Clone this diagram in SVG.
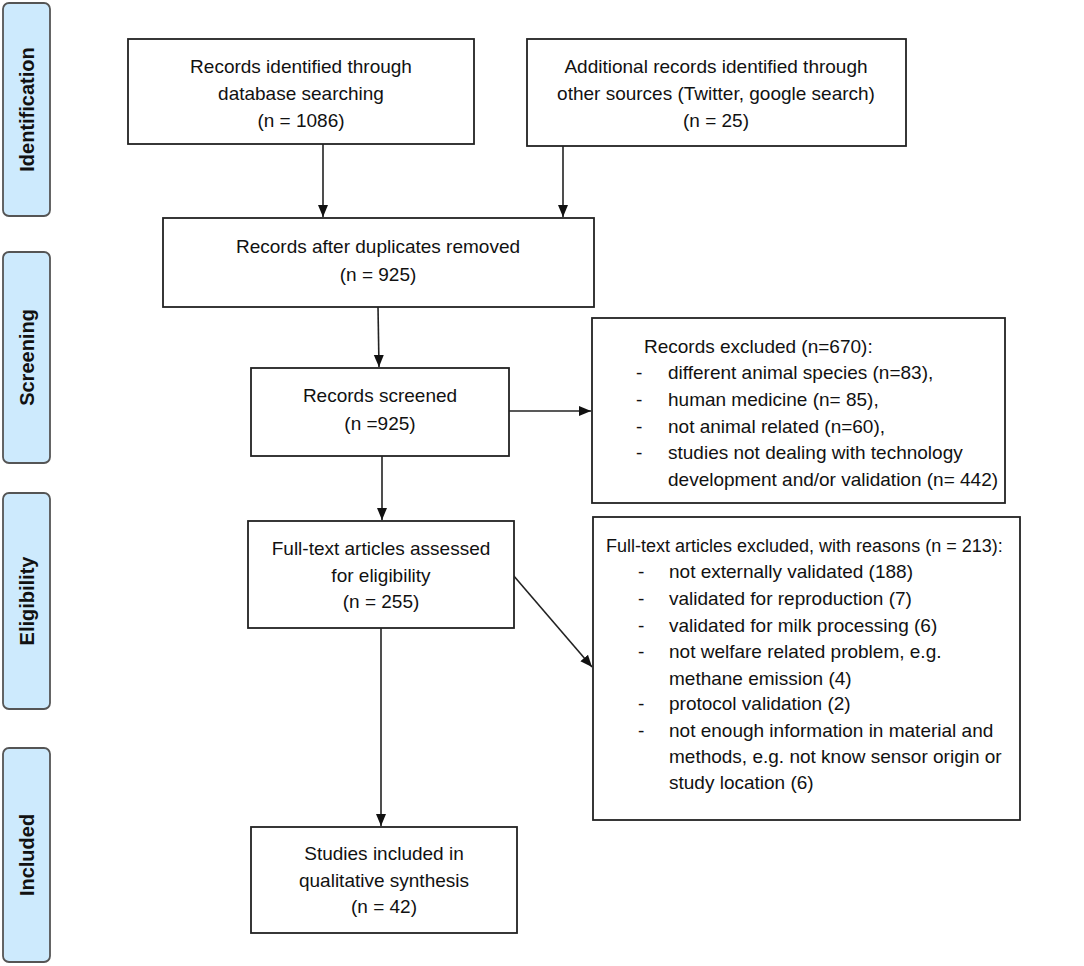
<svg xmlns="http://www.w3.org/2000/svg" width="1084" height="966" viewBox="0 0 1084 966">
<defs>
<marker id="arr" markerWidth="12" markerHeight="11" refX="12" refY="5.5" orient="auto" markerUnits="userSpaceOnUse">
<path d="M0,0.5 L12,5.5 L0,10.5 Z" fill="#111"/>
</marker>
</defs>
<style>
.box{fill:#fff;stroke:#222;stroke-width:1.8}
.side{fill:#cdeafd;stroke:#555;stroke-width:1.8}
.t{font-family:"Liberation Sans",Arial,sans-serif;font-size:19px;fill:#111}
.c{text-anchor:middle}
.st{font-family:"Liberation Sans",Arial,sans-serif;font-size:20px;font-weight:bold;fill:#111;text-anchor:middle;dominant-baseline:central}
.ln{stroke:#222;stroke-width:1.6;fill:none}
</style>
<rect width="1084" height="966" fill="#fff"/>

<g id="side-identification">
<rect class="side" x="3" y="3" width="47" height="213" rx="6"/>
<text class="st" transform="translate(26.5,109.5) rotate(-90)">Identification</text>
</g>
<g id="side-screening">
<rect class="side" x="3" y="252" width="47" height="211" rx="6"/>
<text class="st" transform="translate(26.5,357.5) rotate(-90)">Screening</text>
</g>
<g id="side-eligibility">
<rect class="side" x="3" y="493" width="47" height="216" rx="6"/>
<text class="st" transform="translate(26.5,601) rotate(-90)">Eligibility</text>
</g>
<g id="side-included">
<rect class="side" x="3" y="748" width="47" height="214" rx="6"/>
<text class="st" transform="translate(26.5,855) rotate(-90)">Included</text>
</g>

<g id="connectors">
<line class="ln" x1="323" y1="144" x2="323" y2="217" marker-end="url(#arr)"/>
<line class="ln" x1="563" y1="146" x2="563" y2="217" marker-end="url(#arr)"/>
<line class="ln" x1="378" y1="307" x2="379" y2="367" marker-end="url(#arr)"/>
<line class="ln" x1="509" y1="411" x2="591" y2="411" marker-end="url(#arr)"/>
<line class="ln" x1="382" y1="456" x2="382" y2="520" marker-end="url(#arr)"/>
<line class="ln" x1="513" y1="575" x2="592" y2="667" marker-end="url(#arr)"/>
<line class="ln" x1="381" y1="628" x2="381" y2="826" marker-end="url(#arr)"/>
</g>

<g id="n-database">
<rect class="box" x="128" y="39" width="346" height="105"/>
<text class="t c" x="301" y="73">Records identified through</text>
<text class="t c" x="301" y="100">database searching</text>
<text class="t c" x="301" y="127">(n = 1086)</text>
</g>
<g id="n-other">
<rect class="box" x="527" y="39" width="379" height="107"/>
<text class="t c" x="716" y="73">Additional records identified through</text>
<text class="t c" x="716" y="100">other sources (Twitter, google search)</text>
<text class="t c" x="716" y="127">(n = 25)</text>
</g>
<g id="n-duplicates">
<rect class="box" x="163" y="218" width="431" height="89"/>
<text class="t c" x="378" y="253">Records after duplicates removed</text>
<text class="t c" x="378" y="281">(n = 925)</text>
</g>
<g id="n-screened">
<rect class="box" x="251" y="368" width="258" height="88"/>
<text class="t c" x="380" y="402">Records screened</text>
<text class="t c" x="380" y="430">(n =925)</text>
</g>
<g id="n-excluded">
<rect class="box" x="592" y="318" width="413" height="185"/>
<text class="t" x="644" y="353">Records excluded (n=670):</text>
<text class="t" x="636" y="379">-</text><text class="t" x="668" y="379">different animal species (n=83),</text>
<text class="t" x="636" y="406">-</text><text class="t" x="668" y="406">human medicine (n= 85),</text>
<text class="t" x="636" y="433">-</text><text class="t" x="668" y="433">not animal related (n=60),</text>
<text class="t" x="636" y="459">-</text><text class="t" x="668" y="459">studies not dealing with technology</text>
<text class="t" x="668" y="486">development and/or validation (n= 442)</text>
</g>
<g id="n-assessed">
<rect class="box" x="248" y="521" width="266" height="107"/>
<text class="t c" x="381" y="555">Full-text articles assessed</text>
<text class="t c" x="381" y="582">for eligibility</text>
<text class="t c" x="381" y="608">(n = 255)</text>
</g>
<g id="n-fulltext-excluded">
<rect class="box" x="593" y="517" width="427" height="303"/>
<text class="t" x="606" y="552" style="font-size:18px">Full-text articles excluded, with reasons (n = 213):</text>
<text class="t" x="638" y="578">-</text><text class="t" x="669" y="578">not externally validated (188)</text>
<text class="t" x="638" y="605">-</text><text class="t" x="669" y="605">validated for reproduction (7)</text>
<text class="t" x="638" y="632">-</text><text class="t" x="669" y="632">validated for milk processing (6)</text>
<text class="t" x="638" y="658">-</text><text class="t" x="669" y="658">not welfare related problem, e.g.</text>
<text class="t" x="669" y="685">methane emission (4)</text>
<text class="t" x="638" y="710">-</text><text class="t" x="669" y="710">protocol validation (2)</text>
<text class="t" x="638" y="737">-</text><text class="t" x="669" y="737">not enough information in material and</text>
<text class="t" x="669" y="763">methods, e.g. not know sensor origin or</text>
<text class="t" x="669" y="789">study location (6)</text>
</g>
<g id="n-included">
<rect class="box" x="251" y="827" width="266" height="106"/>
<text class="t c" x="384" y="860">Studies included in</text>
<text class="t c" x="384" y="887">qualitative synthesis</text>
<text class="t c" x="384" y="913">(n = 42)</text>
</g>
</svg>
